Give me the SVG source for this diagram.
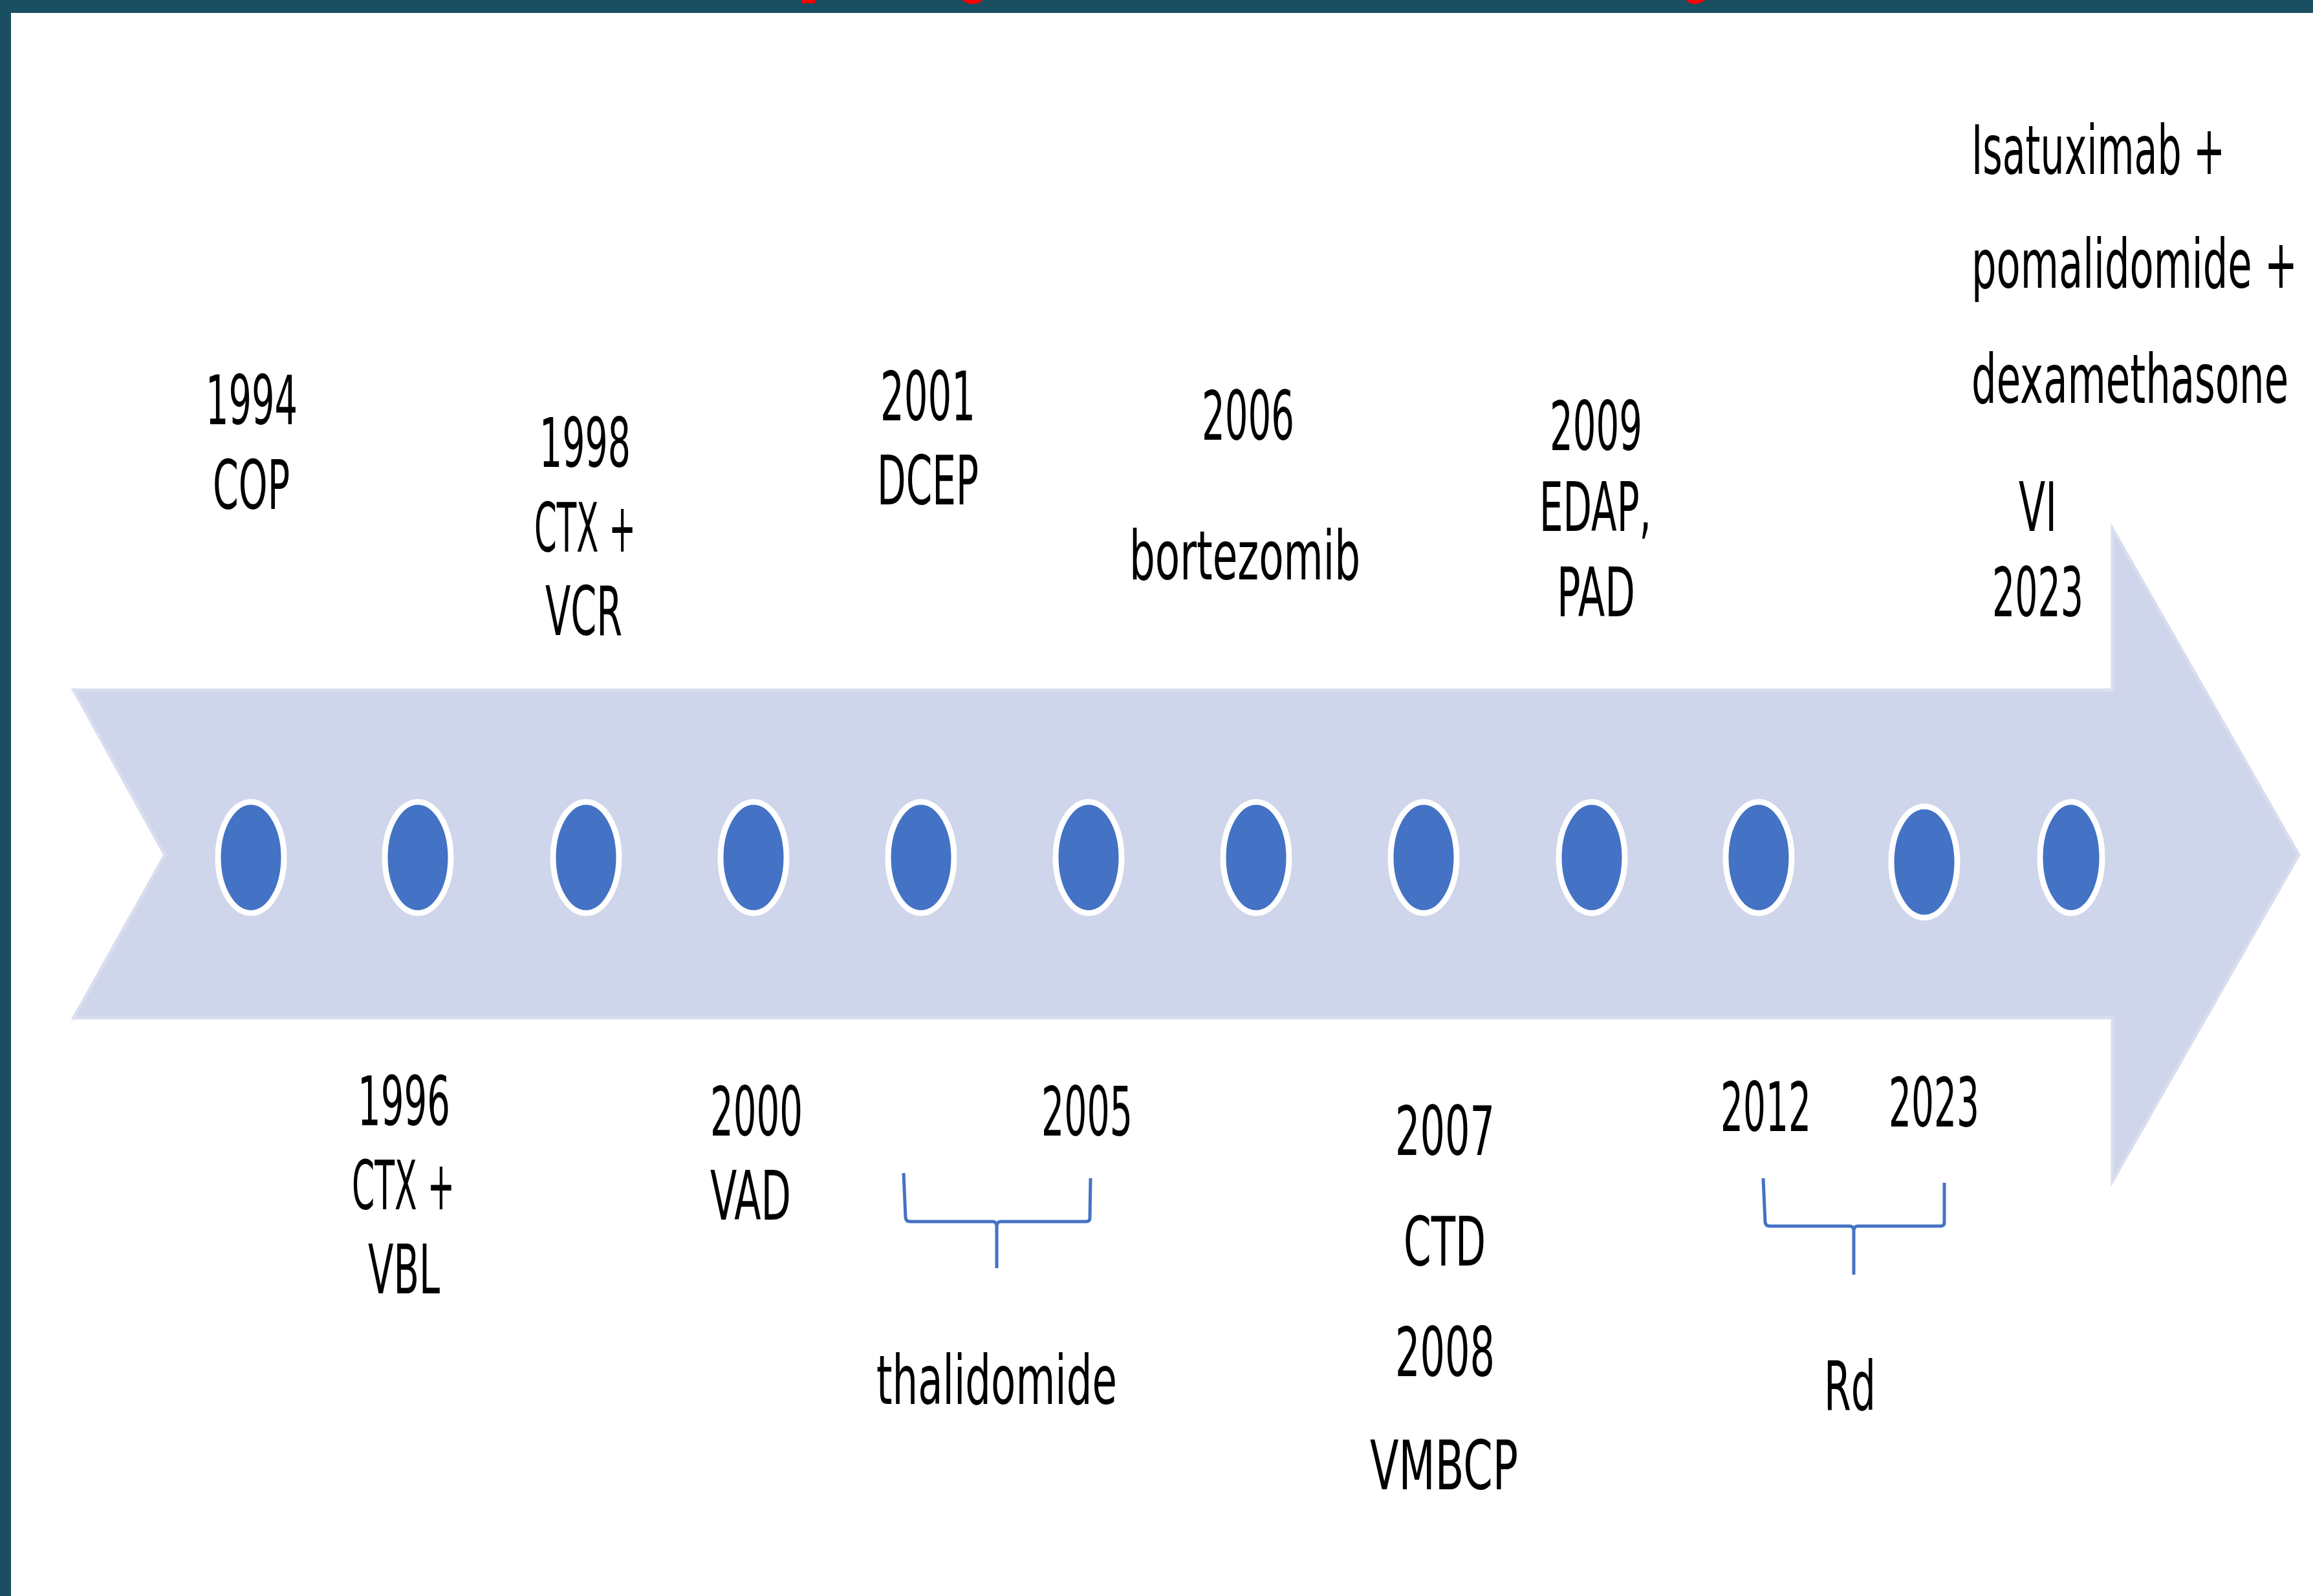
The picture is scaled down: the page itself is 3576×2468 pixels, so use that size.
<svg xmlns="http://www.w3.org/2000/svg" width="3576" height="2468" viewBox="0 0 3576 2468">
<style>
.t{font-family:"DejaVu Sans","Liberation Sans",sans-serif;font-size:105px;fill:#000}
.dot{fill:#4472C4;stroke:#fff;stroke-width:9}
.br{fill:none;stroke:#4472C4;stroke-width:5;stroke-linejoin:round}
</style>
<rect x="0" y="0" width="3576" height="2468" fill="#fff"/>
<g id="frame">
<rect x="0" y="0" width="3576" height="20" fill="#1A4E61"/>
<rect x="0" y="0" width="17" height="2468" fill="#1A4E61"/>
<rect x="1239" y="0" width="21" height="5" fill="#f00"/>
<path d="M1488,0 Q1494,7 1506,6 Q1515,5 1519,0 Z" fill="#f00"/>
<path d="M2607,0 Q2612,7 2622,6 Q2632,4 2636,0 Z" fill="#f00"/>
</g>
<g id="arrow">
<polygon points="114,1067 3266,1067 3266,818 3554,1322 3266,1826 3266,1574 114,1574 255,1322" fill="#CFD5EA" stroke="#D9DEEF" stroke-width="5"/>
</g>
<g id="dots">
<ellipse id="dot-1994" class="dot" cx="388" cy="1326" rx="51" ry="86"/>
<ellipse id="dot-1996" class="dot" cx="646" cy="1326" rx="51" ry="86"/>
<ellipse id="dot-1998" class="dot" cx="906" cy="1326" rx="51" ry="86"/>
<ellipse id="dot-2000" class="dot" cx="1165" cy="1326" rx="51" ry="86"/>
<ellipse id="dot-2001" class="dot" cx="1424" cy="1326" rx="51" ry="86"/>
<ellipse id="dot-2005" class="dot" cx="1683" cy="1326" rx="51" ry="86"/>
<ellipse id="dot-2006" class="dot" cx="1942" cy="1326" rx="51" ry="86"/>
<ellipse id="dot-2007" class="dot" cx="2201" cy="1326" rx="51" ry="86"/>
<ellipse id="dot-2009" class="dot" cx="2461" cy="1326" rx="51" ry="86"/>
<ellipse id="dot-2012" class="dot" cx="2719" cy="1326" rx="51" ry="86"/>
<ellipse id="dot-2023a" class="dot" cx="2975" cy="1333" rx="51" ry="86"/>
<ellipse id="dot-2023b" class="dot" cx="3202" cy="1326" rx="48" ry="86"/>
</g>
<g id="connectors">
<path class="br" d="M1397,1814 L1400,1883 Q1401,1889 1407,1889 L1535,1889 Q1541,1889 1541,1897 L1541,1961 M1541,1897 Q1541,1889 1547,1889 L1679,1889 Q1685,1889 1685,1883 L1686,1822"/>
<path class="br" d="M2726,1822 L2729,1890 Q2730,1896 2736,1896 L2860,1896 Q2866,1896 2866,1904 L2866,1971 M2866,1904 Q2866,1896 2872,1896 L3000,1896 Q3006,1896 3006,1890 L3006,1829"/>
</g>
<g id="label-1994"><text class="t" x="318" y="656" textLength="142" lengthAdjust="spacingAndGlyphs">1994</text><text class="t" x="329" y="787" textLength="119" lengthAdjust="spacingAndGlyphs">COP</text></g>
<g id="label-1998"><text class="t" x="834" y="722" textLength="141" lengthAdjust="spacingAndGlyphs">1998</text><text class="t" x="826" y="853" textLength="157" lengthAdjust="spacingAndGlyphs">CTX +</text><text class="t" x="843" y="982" textLength="119" lengthAdjust="spacingAndGlyphs">VCR</text></g>
<g id="label-2001"><text class="t" x="1361" y="650" textLength="147" lengthAdjust="spacingAndGlyphs">2001</text><text class="t" x="1356" y="780" textLength="157" lengthAdjust="spacingAndGlyphs">DCEP</text></g>
<g id="label-2006"><text class="t" x="1858" y="680" textLength="143" lengthAdjust="spacingAndGlyphs">2006</text><text class="t" x="1746" y="896" textLength="357" lengthAdjust="spacingAndGlyphs">bortezomib</text></g>
<g id="label-2009"><text class="t" x="2396" y="696" textLength="143" lengthAdjust="spacingAndGlyphs">2009</text><text class="t" x="2380" y="821" textLength="173" lengthAdjust="spacingAndGlyphs">EDAP,</text><text class="t" x="2407" y="953" textLength="121" lengthAdjust="spacingAndGlyphs">PAD</text></g>
<g id="label-2023-isa">
<g transform="translate(3048,0) scale(0.57,1)"><text class="t" x="0" y="269" textLength="688" lengthAdjust="spacingAndGlyphs">Isatuximab +</text><text class="t" x="0" y="445" textLength="884" lengthAdjust="spacingAndGlyphs">pomalidomide +</text><text class="t" x="0" y="623" textLength="860" lengthAdjust="spacingAndGlyphs">dexamethasone</text></g>
<text class="t" x="3121" y="821" textLength="59" lengthAdjust="spacingAndGlyphs">VI</text><text class="t" x="3080" y="953" textLength="141" lengthAdjust="spacingAndGlyphs">2023</text></g>
<g id="label-1996"><text class="t" x="553" y="1740" textLength="143" lengthAdjust="spacingAndGlyphs">1996</text><text class="t" x="544" y="1870" textLength="159" lengthAdjust="spacingAndGlyphs">CTX +</text><text class="t" x="569" y="2000" textLength="111" lengthAdjust="spacingAndGlyphs">VBL</text></g>
<g id="label-2000"><text class="t" x="1098" y="1756" textLength="143" lengthAdjust="spacingAndGlyphs">2000</text><text class="t" x="1098" y="1886" textLength="125" lengthAdjust="spacingAndGlyphs">VAD</text></g>
<g id="label-2005"><text class="t" x="1610" y="1756" textLength="141" lengthAdjust="spacingAndGlyphs">2005</text></g>
<g id="label-thalidomide"><text class="t" x="1355" y="2171" textLength="372" lengthAdjust="spacingAndGlyphs">thalidomide</text></g>
<g id="label-2007"><text class="t" x="2157" y="1786" textLength="154" lengthAdjust="spacingAndGlyphs">2007</text><text class="t" x="2170" y="1957" textLength="127" lengthAdjust="spacingAndGlyphs">CTD</text><text class="t" x="2157" y="2128" textLength="154" lengthAdjust="spacingAndGlyphs">2008</text><text class="t" x="2118" y="2303" textLength="229" lengthAdjust="spacingAndGlyphs">VMBCP</text></g>
<g id="label-2012"><text class="t" x="2660" y="1749" textLength="140" lengthAdjust="spacingAndGlyphs">2012</text></g>
<g id="label-2023"><text class="t" x="2920" y="1742" textLength="140" lengthAdjust="spacingAndGlyphs">2023</text></g>
<g id="label-rd"><text class="t" x="2820" y="2180" textLength="80" lengthAdjust="spacingAndGlyphs">Rd</text></g>
</svg>
